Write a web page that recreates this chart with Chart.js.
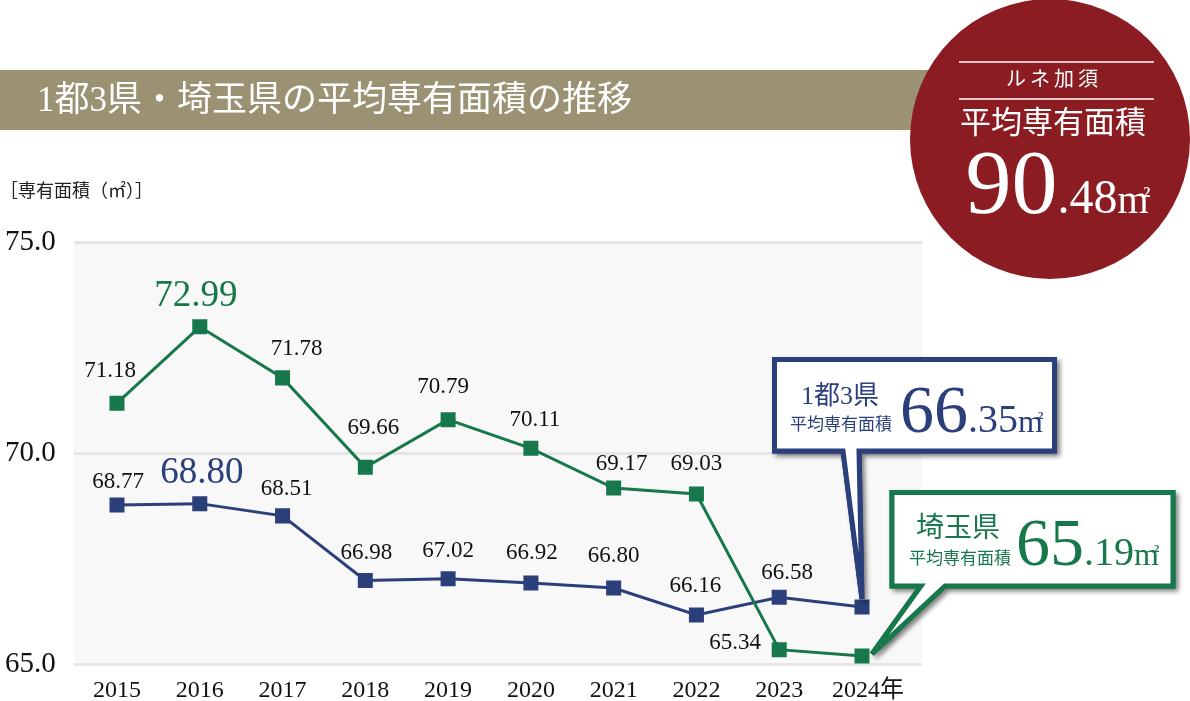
<!DOCTYPE html>
<html lang="ja">
<head>
<meta charset="utf-8">
<title>1都3県・埼玉県の平均専有面積の推移</title>
<script src="https://cdn.jsdelivr.net/npm/chart.js@4.4.1/dist/chart.umd.min.js"></script>
<style>
  html, body { margin: 0; padding: 0; background: #fff; }
  #grafico { display: block; }
</style>
</head>
<body>
<canvas id="grafico" width="1190" height="701"></canvas>
<script>
// データ
const years = ['2015', '2016', '2017', '2018', '2019', '2020', '2021', '2022', '2023', '2024'];
const yearLabels = ['2015', '2016', '2017', '2018', '2019', '2020', '2021', '2022', '2023', '\u20022024年'];
const saitama = [71.18, 72.99, 71.78, 69.66, 70.79, 70.11, 69.17, 69.03, 65.34, 65.19];
const shutoken = [68.77, 68.80, 68.51, 66.98, 67.02, 66.92, 66.80, 66.16, 66.58, 66.35];
const yTicks = [65, 70, 75];
const kazoArea = 90.48;

const SERIF = '"Liberation Serif", "Noto Sans CJK JP", serif';
const GREEN = '#17784b';
const NAVY = '#2b3f7a';

// ラベル位置 (点からのずれ)
const greenOffsets = [[-7, -32], [-4, -31], [14, -29], [8, -39], [-5, -33], [4, -28], [8, -24], [0, -30], [-44, -7], null];
const navyOffsets = [[1, -23], [2, -30], [4, -27], [1, -27], [0, -28], [1, -30], [0, -32], [-1, -29], [8, -24], null];
const highlight = 1;

function drawArea(ctx, x, baseline, value, sizes, color, center) {
    const parts = value.toFixed(2).split('.');
    const intTxt = parts[0], decTxt = '.' + parts[1];
    ctx.save();
    ctx.fillStyle = color;
    ctx.textBaseline = 'alphabetic';
    ctx.textAlign = 'left';
    ctx.font = `${sizes[0]}px ${SERIF}`;
    const w1 = ctx.measureText(intTxt).width;
    ctx.font = `${sizes[1]}px ${SERIF}`;
    const w2 = ctx.measureText(decTxt).width;
    ctx.font = `${sizes[2]}px ${SERIF}`;
    const w3 = ctx.measureText('m').width;
    let sx = center ? x - (w1 + w2 + w3 + 2) / 2 : x;
    ctx.font = `${sizes[0]}px ${SERIF}`;
    ctx.fillText(intTxt, sx, baseline);
    ctx.font = `${sizes[1]}px ${SERIF}`;
    ctx.fillText(decTxt, sx + w1, baseline);
    ctx.font = `${sizes[2]}px ${SERIF}`;
    ctx.fillText('m', sx + w1 + w2, baseline);
    ctx.font = `bold ${Math.round(sizes[2] * 0.34)}px ${SERIF}`;
    ctx.fillText('2', sx + w1 + w2 + w3 - 5, baseline - sizes[2] * 0.4);
    ctx.restore();
}

function callout(ctx, box, tail, tip, color) {
    const [x1, y1, x2, y2] = box;
    ctx.save();
    ctx.beginPath();
    ctx.moveTo(x1, y1);
    ctx.lineTo(x2, y1);
    ctx.lineTo(x2, y2);
    ctx.lineTo(tail[1], y2);
    ctx.lineTo(tip.x, tip.y);
    ctx.lineTo(tail[0], y2);
    ctx.lineTo(x1, y2);
    ctx.closePath();
    ctx.lineWidth = 5;
    ctx.strokeStyle = color;
    ctx.fillStyle = '#fff';
    ctx.shadowColor = 'rgba(0,0,0,0.4)';
    ctx.shadowBlur = 5;
    ctx.shadowOffsetX = 3;
    ctx.shadowOffsetY = 3;
    ctx.fill();
    ctx.stroke();
    ctx.shadowColor = 'transparent';
    ctx.fill();
    ctx.stroke();
    ctx.restore();
}

function centerText(ctx, txt, x, y, size, color) {
    ctx.save();
    ctx.font = `${size}px ${SERIF}`;
    ctx.fillStyle = color;
    ctx.textAlign = 'center';
    ctx.textBaseline = 'middle';
    ctx.fillText(txt, x, y);
    ctx.restore();
}

const decor = {
    id: 'decor',
    beforeDraw(chart) {
        const ctx = chart.ctx;
        const a = chart.chartArea;
        ctx.save();
        ctx.fillStyle = '#fff';
        ctx.fillRect(0, 0, chart.width, chart.height);
        // タイトル帯
        ctx.fillStyle = '#9b9274';
        ctx.fillRect(0, 70, 980, 60);
        ctx.fillStyle = '#fff';
        ctx.font = `35px ${SERIF}`;
        ctx.textBaseline = 'middle';
        ctx.fillText('1都3県・埼玉県の平均専有面積の推移', 37, 102);
        // 軸タイトル
        ctx.fillStyle = '#222';
        ctx.font = `18px ${SERIF}`;
        ctx.fillText('［専有面積（㎡）］', 0, 192);
        // グラフ背景
        ctx.fillStyle = '#f8f8f8';
        ctx.fillRect(a.left, a.top, a.right - a.left, a.bottom - a.top);
        ctx.restore();
    },
    afterDatasetsDraw(chart) {
        const ctx = chart.ctx;
        const sets = [[0, greenOffsets, GREEN], [1, navyOffsets, NAVY]];
        sets.forEach(([di, offs, color]) => {
            const meta = chart.getDatasetMeta(di);
            const data = chart.data.datasets[di].data;
            meta.data.forEach((pt, i) => {
                if (!offs[i]) return;
                const txt = data[i].y.toFixed(2);
                if (i === highlight) {
                    centerText(ctx, txt, pt.x + offs[i][0], pt.y + offs[i][1], 37, color);
                } else {
                    centerText(ctx, txt, pt.x + offs[i][0], pt.y + offs[i][1], 23, '#111');
                }
            });
        });

        // 吹き出し 1都3県
        const lastN = chart.getDatasetMeta(1).data[years.length - 1];
        callout(ctx, [774.5, 359.5, 1054.5, 451], [843, 859], { x: lastN.x, y: lastN.y - 8 }, NAVY);
        centerText(ctx, '1都3県', 840, 397, 26, NAVY);
        centerText(ctx, '平均専有面積', 841, 426, 17, NAVY);
        drawArea(ctx, 900, 432, shutoken[shutoken.length - 1], [68, 40, 32], NAVY, false);

        // 吹き出し 埼玉県
        const lastG = chart.getDatasetMeta(0).data[years.length - 1];
        callout(ctx, [892, 492.5, 1173, 586], [921, 945], { x: lastG.x + 10, y: lastG.y - 2 }, GREEN);
        centerText(ctx, '埼玉県', 958, 530, 28, GREEN);
        centerText(ctx, '平均専有面積', 960, 560, 17, GREEN);
        drawArea(ctx, 1016, 565, saitama[saitama.length - 1], [68, 40, 32], GREEN, false);
    },
    afterDraw(chart) {
        const ctx = chart.ctx;
        ctx.save();
        ctx.fillStyle = '#8a1c22';
        ctx.beginPath();
        ctx.arc(1050, 139, 140, 0, Math.PI * 2);
        ctx.fill();
        ctx.strokeStyle = '#fff';
        ctx.lineWidth = 1.5;
        ctx.beginPath();
        ctx.moveTo(959, 62); ctx.lineTo(1154, 62);
        ctx.moveTo(959, 99); ctx.lineTo(1154, 99);
        ctx.stroke();
        ctx.letterSpacing = '4px';
        centerText(ctx, 'ルネ加須', 1054, 81, 20, '#fff');
        ctx.letterSpacing = '0px';
        centerText(ctx, '平均専有面積', 1053, 125, 31, '#fff');
        drawArea(ctx, 1058, 213, kazoArea, [92, 48, 40], '#fff', true);
        ctx.restore();
    }
};

const ctx = document.getElementById('grafico').getContext('2d');
new Chart(ctx, {
    type: 'line',
    data: {
        datasets: [
            {
                label: '埼玉県',
                data: saitama.map((v, i) => ({ x: i, y: v })),
                borderColor: GREEN,
                backgroundColor: GREEN,
                borderWidth: 3,
                pointStyle: 'rect',
                pointRadius: 8.5,
                pointHoverRadius: 8.5,
                tension: 0
            },
            {
                label: '1都3県',
                data: shutoken.map((v, i) => ({ x: i, y: v })),
                borderColor: NAVY,
                backgroundColor: NAVY,
                borderWidth: 3,
                pointStyle: 'rect',
                pointRadius: 8.5,
                pointHoverRadius: 8.5,
                tension: 0
            }
        ]
    },
    options: {
        responsive: false,
        animation: false,
        layout: { padding: { left: 5, top: 242, right: 268, bottom: 0 } },
        plugins: {
            legend: { display: false },
            tooltip: { enabled: false }
        },
        scales: {
            x: {
                type: 'linear',
                min: -0.5195,
                max: 9.725,
                grid: { display: false, drawTicks: false },
                border: { display: false },
                afterBuildTicks: (scale) => { scale.ticks = years.map((_, i) => ({ value: i })); },
                afterFit: (scale) => { scale.height = 37; },
                ticks: {
                    padding: 12,
                    maxRotation: 0,
                    autoSkip: false,
                    color: '#111',
                    font: { family: SERIF, size: 24 },
                    callback: (v) => yearLabels[v]
                }
            },
            y: {
                min: 65,
                max: 75,
                grid: { color: '#e6e6e6', lineWidth: 3, drawTicks: false },
                border: { display: false },
                afterBuildTicks: (scale) => { scale.ticks = yTicks.map(v => ({ value: v })); },
                afterFit: (scale) => { scale.width = 69; },
                ticks: {
                    crossAlign: 'far',
                    padding: 0,
                    color: '#111',
                    font: { family: SERIF, size: 29 },
                    callback: (v) => v.toFixed(1)
                }
            }
        }
    },
    plugins: [decor]
});
</script>
</body>
</html>
